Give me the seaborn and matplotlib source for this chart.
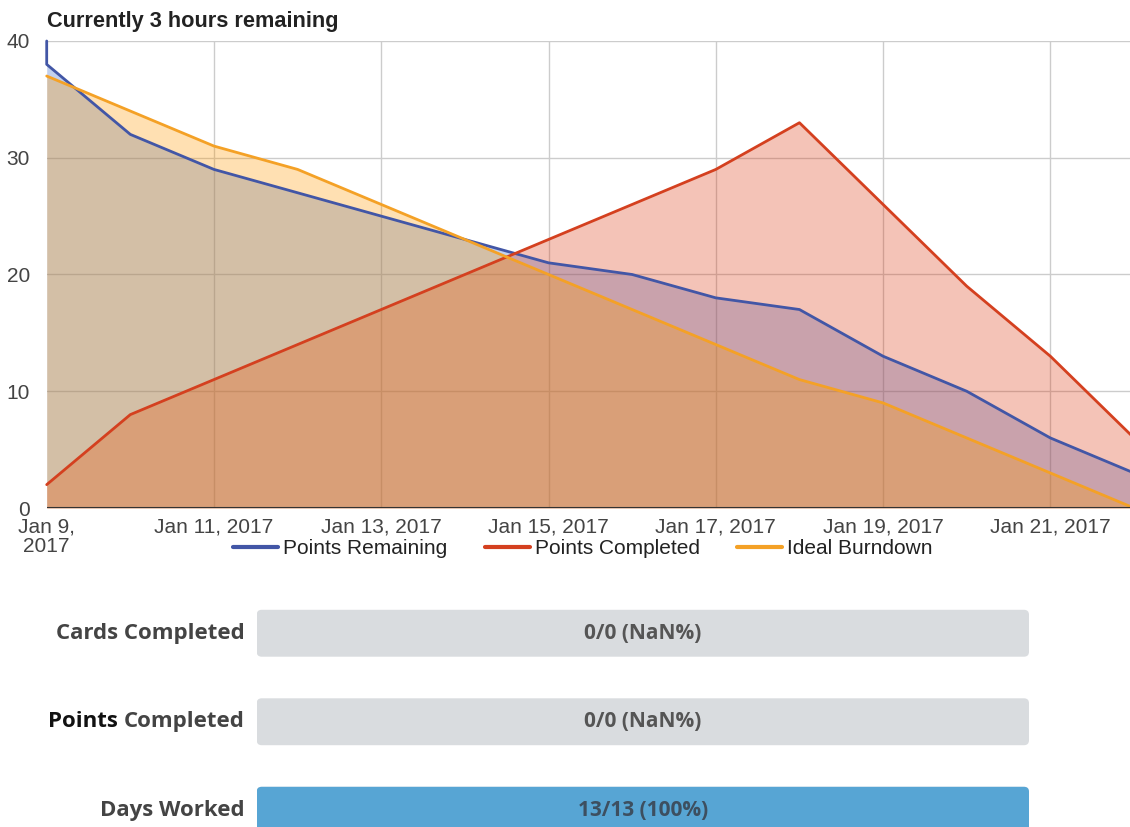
import numpy as np
import pandas as pd
import matplotlib
matplotlib.use("Agg")
import matplotlib.pyplot as plt
from matplotlib.patches import FancyBboxPatch, Rectangle
from matplotlib.lines import Line2D
import seaborn as sns

# ---------------- data ----------------
dates = pd.date_range("2017-01-09", "2017-01-22", freq="D")
points_remaining_start = 40
points_remaining = [38, 32, 29, 27, 25, 23, 21, 20, 18, 17, 13, 10, 6, 3]
points_completed = [2, 8, 11, 14, 17, 20, 23, 26, 29, 33, 26, 19, 13, 6]
ideal_burndown = [37, 34, 31, 29, 26, 23, 20, 17, 14, 11, 9, 6, 3, 0]

series_names = ["Points Remaining", "Points Completed", "Ideal Burndown"]
fill_colors = ["#3366cc", "#dc3912", "#ff9900"]
line_colors = ["#4256a6", "#d4401f", "#f4a126"]

y_ticks = [0, 10, 20, 30, 40]
x_tick_dates = pd.to_datetime(["2017-01-09", "2017-01-11", "2017-01-13", "2017-01-15",
                               "2017-01-17", "2017-01-19", "2017-01-21"])
x_tick_labels = ["Jan 9,\n2017", "Jan 11, 2017", "Jan 13, 2017", "Jan 15, 2017",
                 "Jan 17, 2017", "Jan 19, 2017", "Jan 21, 2017"]
title = "Currently 3 hours remaining"

progress_labels = ["Cards Completed", "Points Completed", "Days Worked"]
progress_done = [0, 0, 13]
progress_total = [0, 0, 13]

# ---------------- style ----------------
sns.set_theme(style="white")
plt.rcParams["font.family"] = ["Liberation Sans", "DejaVu Sans"]

W, H = 1130, 827
fig = plt.figure(figsize=(W / 100, H / 100), dpi=100)

# main chart axes (pixel geometry)
x_left, x_right = 46.7, 1134.0
y_top, y_bot = 41.0, 508.0
ax = fig.add_axes([x_left / W, 1 - y_bot / H, (x_right - x_left) / W, (y_bot - y_top) / H])
ax.set_facecolor("none")

# series
blue_x = [dates[0]] + list(dates)
blue_y = [points_remaining_start] + points_remaining
series = [
    (blue_x, blue_y),
    (list(dates), points_completed),
    (list(dates), ideal_burndown),
]

for i, ((xs, ys), col) in enumerate(zip(series, fill_colors)):
    ax.fill_between(xs, ys, 0, color=col, alpha=0.3, lw=0, zorder=1 + 0.1 * i)
for i, ((xs, ys), col) in enumerate(zip(series, line_colors)):
    sns.lineplot(x=xs, y=ys, estimator=None, sort=False, color=col, lw=2.0,
                 ax=ax, zorder=3 + 0.1 * i, legend=False, clip_on=False)

ax.set_xlim(dates[0], dates[-1])
ax.set_ylim(0, 40)
ax.set_yticks(y_ticks)
ax.set_yticklabels([str(v) for v in y_ticks])
ax.set_xticks(x_tick_dates)
ax.set_xticklabels(x_tick_labels)
ax.set_xlabel("")
ax.set_ylabel("")
ax.tick_params(axis="both", length=0, labelsize=15, labelcolor="#444444")
ax.tick_params(axis="y", pad=12)
ax.tick_params(axis="x", pad=7)

for t in ax.get_xticklabels():
    t.set_linespacing(1.0)

# grid
for d in x_tick_dates[1:]:
    ax.axvline(d, color="#cccccc", lw=1, zorder=0.5)
for v in y_ticks[1:]:
    ax.axhline(v, color="#cccccc", lw=1, zorder=0.5)
ax.axhline(0, color="#333333", lw=1.5, zorder=10)
for s in ax.spines.values():
    s.set_visible(False)
ax.grid(False)

fig.text(47 / W, 1 - 22 / H, title, ha="left", va="center", fontsize=15.7,
         fontweight="bold", color="#222222")

# legend
handles = [Line2D([0], [0], color=c, lw=3) for c in line_colors]
fig.legend(handles, series_names, ncol=3, loc="center",
           bbox_to_anchor=(583 / W, 1 - 549 / H), frameon=False, fontsize=15,
           handlelength=2.15, handletextpad=0.25, columnspacing=1.8,
           labelcolor="#222222")

# ---------------- progress bars ----------------
bar_left, bar_right = 256.7, 1029.0
bar_top_axes = 589.0
row_px = 88.5
ax2 = fig.add_axes([bar_left / W, 0, (bar_right - bar_left) / W, (H - bar_top_axes) / H])
ax2.set_facecolor("none")

fractions = [d / t if t else 0.0 for d, t in zip(progress_done, progress_total)]
track = [1.0 for _ in progress_labels]
sns.barplot(x=track, y=progress_labels, orient="h", color="#d9dcdf",
            width=0.53, ax=ax2, saturation=1)
sns.barplot(x=fractions, y=progress_labels, orient="h", color="#57a5d4",
            width=0.53, ax=ax2, saturation=1)
ax2.set_xlim(0, 1)
ax2.set_ylim((H - bar_top_axes) / row_px - 0.5, -0.5)

# round the bar corners
rx = 5 / (bar_right - bar_left)
ry = 5 / row_px
for p in list(ax2.patches):
    if isinstance(p, Rectangle) and p.get_width() > 0:
        fb = FancyBboxPatch((p.get_x(), p.get_y()), p.get_width(), p.get_height(),
                            boxstyle=f"round,pad=0,rounding_size={rx}",
                            mutation_aspect=ry / rx, fc=p.get_facecolor(),
                            ec="none", zorder=p.get_zorder())
        ax2.add_patch(fb)
    p.remove()

ax2.axis("off")

label_font = ["Open Sans", "DejaVu Sans"]
lbl_x = -12.0 / (bar_right - bar_left)
for i, (lab, d, t) in enumerate(zip(progress_labels, progress_done, progress_total)):
    pct = "NaN%" if t == 0 else f"{round(100 * d / t)}%"
    txt_col = "#3d4f60" if (t and d / t > 0.5) else "#555555"
    ax2.text(0.5, i, f"{d}/{t} ({pct})", ha="center", va="center", fontsize=15,
             fontweight="bold", color=txt_col, family=label_font)
    if lab.startswith("Points "):
        rest = lab[len("Points "):]
        tx = ax2.text(lbl_x, i, rest, ha="right", va="center", fontsize=16,
                      fontweight="bold", color="#444444", family=label_font,
                      clip_on=False)
        ax2.annotate("Points ", xy=(0, 0.5), xycoords=tx, ha="right", va="center",
                     fontsize=16, fontweight="bold", color="#111111",
                     family=label_font, annotation_clip=False)
    else:
        ax2.text(lbl_x, i, lab, ha="right", va="center", fontsize=16,
                 fontweight="bold", color="#444444", family=label_font, clip_on=False)

fig.savefig("out.png", dpi=100)
